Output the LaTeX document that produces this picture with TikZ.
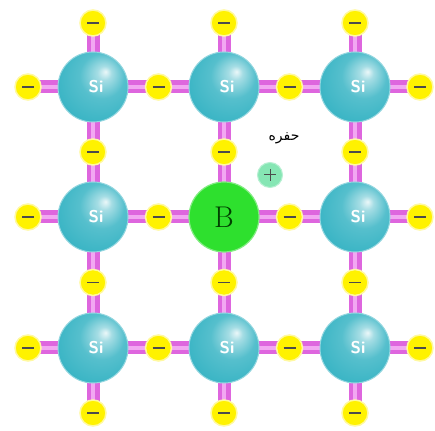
\documentclass[tikz,border=0pt]{standalone}
\usepackage{fontspec}
\newfontfamily\arabicfont[Script=Arabic]{DejaVu Sans}
\TeXXeTstate=1
\usetikzlibrary{calc}
\definecolor{sicol}{HTML}{38B4C4}
\definecolor{bondcol}{HTML}{DE66DE}
\definecolor{bondlite}{HTML}{F2A8F2}
\definecolor{elcol}{HTML}{FFF200}
\definecolor{elglow}{HTML}{FFF9A0}
\definecolor{boroncol}{HTML}{2EE02E}
\definecolor{holecol}{HTML}{86E6B4}
\pgfdeclareradialshading{siball}{\pgfpoint{9bp}{11bp}}{%
  color(0bp)=(white!90!sicol);
  color(5bp)=(white!55!sicol);
  color(16bp)=(sicol!85!white);
  color(32bp)=(sicol);
  color(55bp)=(sicol!90!black)}
\pgfdeclarelayer{background}
\pgfsetlayers{background,main}
\tikzset{
  x=1pt, y=1pt,
  siatom/.style={circle, minimum size=70pt, inner sep=0pt, shading=siball,
    draw=sicol!55!white, line width=1pt,
    font=\sffamily\bfseries\fontsize{17}{17}\selectfont, text=white},
  boron/.style={circle, minimum size=70pt, inner sep=0pt, fill=boroncol,
    draw=boroncol!60!white, line width=1.2pt,
    font=\fontsize{30}{30}\selectfont, text=black!75!green},
  electron/.style={circle, minimum size=26pt, inner sep=0pt, fill=elcol,
    draw=elglow, line width=1.5pt},
  hole/.style={circle, minimum size=25pt, inner sep=0pt, fill=holecol,
    draw=holecol!60!white, line width=1pt},
  bondouter/.style={draw=bondcol, line width=13pt},
  bondinner/.style={draw=bondlite, line width=4pt},
  minus/.style={draw=black!70, line width=1.3pt},
}
\newcommand{\minussign}[1]{\draw[minus] ($(#1)+(-6,0)$) -- ($(#1)+(6,0)$);}
\begin{document}
\begin{tikzpicture}
\useasboundingbox (0,0) rectangle (435,430);

% lattice atoms (columns x = 93, 224, 355; rows y = 343, 213, 82)
\node[siatom] (a11) at (93,343) {\hspace*{6pt}Si};
\node[siatom] (a12) at (224,343) {\hspace*{6pt}Si};
\node[siatom] (a13) at (355,343) {\hspace*{6pt}Si};
\node[siatom] (a21) at (93,213) {\hspace*{6pt}Si};
\node[boron]  (b)   at (224,213) {B};
\node[siatom] (a23) at (355,213) {\hspace*{6pt}Si};
\node[siatom] (a31) at (93,82) {\hspace*{6pt}Si};
\node[siatom] (a32) at (224,82) {\hspace*{6pt}Si};
\node[siatom] (a33) at (355,82) {\hspace*{6pt}Si};

% shared electrons between neighbouring atoms
\node[electron] (e1112) at (158.5,343) {};
\node[electron] (e1213) at (289.5,343) {};
\node[electron] (e2122) at (158.5,213) {};
\node[electron] (e2223) at (289.5,213) {};
\node[electron] (e3132) at (158.5,82) {};
\node[electron] (e3233) at (289.5,82) {};
\node[electron] (e1121) at (93,278) {};
\node[electron] (e2131) at (93,147.5) {};
\node[electron] (e1222) at (224,278) {};
\node[electron] (e2232) at (224,147.5) {};
\node[electron] (e1323) at (355,278) {};
\node[electron] (e2333) at (355,147.5) {};

% outer electrons on the border
\node[electron] (t1) at (93,407) {};
\node[electron] (t2) at (224,407) {};
\node[electron] (t3) at (355,407) {};
\node[electron] (d1) at (93,17) {};
\node[electron] (d2) at (224,17) {};
\node[electron] (d3) at (355,17) {};
\node[electron] (l1) at (28,343) {};
\node[electron] (l2) at (28,213) {};
\node[electron] (l3) at (28,82) {};
\node[electron] (r1) at (420,343) {};
\node[electron] (r2) at (420,213) {};
\node[electron] (r3) at (420,82) {};

% minus signs on every electron
\foreach \e in {e1112,e1213,e2122,e2223,e3132,e3233,e1121,e2131,e1222,e2232,e1323,e2333,
                t1,t2,t3,d1,d2,d3,l1,l2,l3,r1,r2,r3}{
  \minussign{\e}
}

% the hole next to the boron atom
\node[hole] (h) at (270,255) {};
\draw[minus, line width=1pt] ($(h)+(-6,0)$) -- ($(h)+(6,0)$);
\draw[minus, line width=1pt] ($(h)+(0,-6)$) -- ($(h)+(0,6)$);
\node[font=\arabicfont\fontsize{14}{14}\selectfont] (lbl) at (284,292) {\beginR حفره\endR};

% white page and covalent bonds behind atoms and electrons
\begin{pgfonlayer}{background}
  \fill[white] (0,0) rectangle (435,430);
  \foreach \p/\q in {a11/a12,a12/a13,a21/b,b/a23,a31/a32,a32/a33,
                     a11/a21,a21/a31,a12/b,b/a32,a13/a23,a23/a33,
                     a11/t1,a12/t2,a13/t3,a31/d1,a32/d2,a33/d3,
                     a11/l1,a21/l2,a31/l3,a13/r1,a23/r2,a33/r3}{
    \draw[bondouter] (\p.center) -- (\q.center);
    \draw[bondinner] (\p.center) -- (\q.center);
  }
\end{pgfonlayer}
\end{tikzpicture}
\end{document}
